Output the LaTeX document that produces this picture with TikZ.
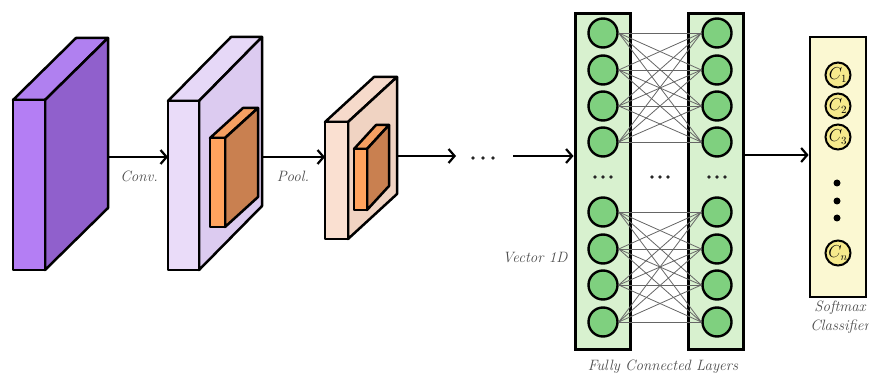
\documentclass[tikz,border=0pt]{standalone}
\usetikzlibrary{arrows.meta}
\definecolor{pfront}{HTML}{B47EF4}
\definecolor{ptop}{HTML}{B080F0}
\definecolor{pside}{HTML}{9060CC}
\definecolor{lfront}{HTML}{EADCF9}
\definecolor{ltop}{HTML}{E6D8F7}
\definecolor{lside}{HTML}{DCCBF0}
\definecolor{ofront}{HTML}{FFA35E}
\definecolor{otop}{HTML}{F5A062}
\definecolor{oside}{HTML}{C98050}
\definecolor{cfront}{HTML}{FAE0D1}
\definecolor{ctop}{HTML}{F6DACB}
\definecolor{cside}{HTML}{F0D3C2}
\definecolor{fcfill}{HTML}{D8F1CF}
\definecolor{neuron}{HTML}{7FD07F}
\definecolor{smfill}{HTML}{FBF8D2}
\definecolor{smnode}{HTML}{F6EA8C}
\newcommand{\mycube}[9]{%
  \filldraw[fill=#8,line width=2.5pt,line join=round] (#1,#2) -- ++(#5,#6) -- ++(#3,0) -- ++(-#5,-#6) -- cycle;
  \filldraw[fill=#9,line width=2.5pt,line join=round] (#1+#3,#2) -- ++(#5,#6) -- ++(0,#4) -- ++(-#5,-#6) -- cycle;
  \filldraw[fill=#7,line width=2.5pt,line join=round] (#1,#2) rectangle ++(#3,#4);
}
\tikzset{
  flow/.style={line width=2.2pt,-{Straight Barb[length=6pt,width=14pt,line width=2.2pt]}},
  lbl/.style={font=\fontsize{15}{18}\selectfont\itshape,text=black!70},
  fcbox/.style={draw,line width=3pt,fill=fcfill,minimum width=55pt,minimum height=336pt,inner sep=0pt},
  neur/.style={circle,draw,line width=2.4pt,fill=neuron,minimum size=29pt,inner sep=0pt},
  wire/.style={draw=black!60,line width=0.8pt},
  smbox/.style={draw,line width=2.8pt,fill=smfill,minimum width=56pt,minimum height=260pt,inner sep=0pt},
  cls/.style={circle,draw,line width=2pt,fill=smnode,minimum size=25pt,inner sep=0pt,font=\fontsize{16}{18}\selectfont},
  bigdot/.style={circle,fill=black,minimum size=7pt,inner sep=0pt},
  smalldot/.style={circle,fill=black!85,minimum size=3.6pt,inner sep=0pt}
}
\begin{document}
\begin{tikzpicture}[x=1pt,y=-1pt]
\useasboundingbox (0,0) rectangle (869,379);
% cuboids
\mycube{13}{100}{32}{170}{63}{-62}{pfront}{ptop}{pside}
\mycube{168}{101}{31}{169}{63}{-64}{lfront}{ltop}{lside}
\mycube{210}{138}{15}{89}{33}{-30}{ofront}{otop}{oside}
\mycube{325}{122}{23}{117}{49}{-45}{cfront}{ctop}{cside}
\mycube{354}{149}{13}{61}{22}{-24}{ofront}{otop}{oside}
\coordinate (b1r) at (108,157);
\coordinate (b2l) at (168,157);
\coordinate (b2r) at (262,157);
\coordinate (b3l) at (325,157);
\coordinate (b3r) at (397,156);
\coordinate (d1) at (456,156);
\coordinate (d2) at (513,156);
\foreach \k/\x in {a/473,b/483,c/493}{\node[smalldot] (hd\k) at (\x,158) {};}
\draw[flow] (b1r) -- (b2l);
\draw[flow] (b2r) -- (b3l);
\draw[flow] (b3r) -- (d1);
\node[lbl] (conv) at (139,176) {Conv.};
\node[lbl] (pool) at (293,176) {Pool.};
% FC boxes
\node[fcbox] (FL) at (602.5,181.5) {};
\node[fcbox] (FR) at (716,181.5) {};
\draw[flow] (d2) -- (FL.west |- d2);
\foreach \i/\y in {1/33,2/70,3/106,4/142,5/212,6/249,7/285,8/322}{
  \node[neur] (L\i) at (603,\y) {};
  \node[neur] (R\i) at (717,\y) {};
}
\foreach \i in {1,...,4}{\foreach \j in {1,...,4}{
  \draw[wire] (L\i.east) -- (R\j.west);}}
\foreach \i in {5,...,8}{\foreach \j in {5,...,8}{
  \draw[wire] (L\i.east) -- (R\j.west);}}
\foreach \c/\cx in {l/603,m/660,r/717}{
  \foreach \k/\dx in {a/-8,b/0,c/8}{\node[smalldot] (fd\c\k) at (\cx+\dx,177) {};}}
\node[lbl] (vec) at (535,258) {Vector 1D};
\node[lbl] (fcl) at (663,367) {Fully Connected Layers};
% softmax
\node[smbox] (SM) at (838,167) {};
\coordinate (fo) at (744,155);
\draw[flow] (FR.east |- fo) -- (SM.west |- fo);
\node[cls] (c1) at (838,75) {$C_1$};
\node[cls] (c2) at (838,106) {$C_2$};
\node[cls] (c3) at (838,137) {$C_3$};
\node[bigdot] (p1) at (837,183) {};
\node[bigdot] (p2) at (837,201) {};
\node[bigdot] (p3) at (837,218) {};
\node[cls] (cn) at (838,253) {$C_n$};
\node[lbl] (smx) at (840,308) {Softmax};
\node[lbl] (cla) at (840,327) {Classifier};
\end{tikzpicture}
\end{document}
